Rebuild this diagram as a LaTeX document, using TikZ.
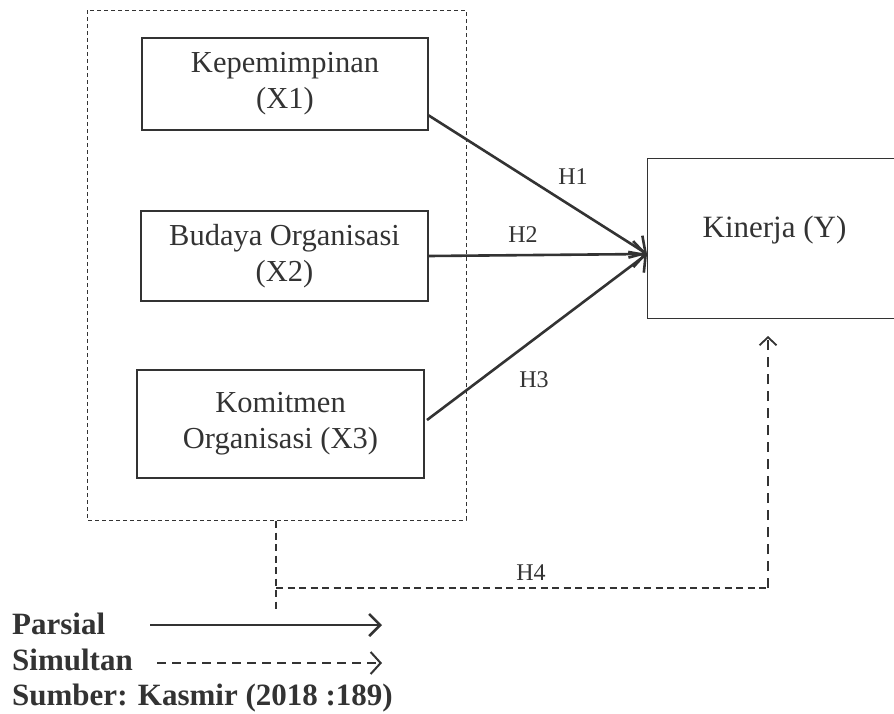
\documentclass[tikz,border=0pt]{standalone}
\usepackage{fontspec}
\setmainfont{Liberation Serif}
\usetikzlibrary{arrows.meta}
\definecolor{ink}{HTML}{333333}
\tikzset{
  varbox/.style={draw=ink, line width=1.1pt, align=center, text=ink, font=\fontsize{30.5}{36}\selectfont, inner sep=0pt},
  lbl/.style={text=ink, font=\fontsize{24}{28}\selectfont},
  solidarrow/.style={draw=ink, line width=2.6pt, -{Straight Barb[length=12pt,width=26pt,line width=2.6pt]}},
  partarrow/.style={draw=ink, line width=2.6pt, -{Straight Barb[length=11pt,width=22pt,line width=2.6pt]}},
  simdash/.style={draw=ink, line width=1.6pt, dash pattern=on 7pt off 4.5pt},
  vdash/.style={draw=ink, line width=1.8pt, dash pattern=on 10pt off 7pt},
  groupbox/.style={draw=ink, line width=1pt, dash pattern=on 4pt off 3pt},
  legend/.style={text=ink, font=\fontsize{31}{36}\selectfont\bfseries, anchor=base west, inner sep=0pt}
}
\begin{document}
\begin{tikzpicture}[x=1pt,y=-1pt]
\useasboundingbox (0,0) rectangle (894,713);
% group box
\draw[groupbox] (87,10) rectangle (466,520);
% variable boxes
\node[varbox, minimum width=286pt, minimum height=92pt] (x1) at (285,84) {Kepemimpinan\\(X1)};
\node[varbox, minimum width=287pt, minimum height=90pt] (x2) at (284.5,256) {Budaya Organisasi\\(X2)};
\node[varbox, minimum width=287pt, minimum height=108pt] (x3) at (280.5,424) {Komitmen\\Organisasi (X3)};
\node[varbox, minimum width=260pt, minimum height=160pt, anchor=north west] (y) at (647,158) {};
\node[text=ink, font=\fontsize{31}{36}\selectfont, anchor=base] at (774.5,237) {Kinerja (Y)};
% hypotheses arrows
\coordinate (tip) at (647,254);
\coordinate (s1) at (428,115);
\coordinate (s3) at (427,420);
\draw[solidarrow] (s1) -- (tip);
\draw[solidarrow] (x2.east) -- (tip);
\draw[solidarrow] (s3) -- (tip);
\node[lbl] at (573,177) {H1};
\node[lbl] at (523,235) {H2};
\node[lbl] at (534,380) {H3};
% simultaneous path
\coordinate (g) at (276,521);
\coordinate (gb) at (276,613);
\coordinate (c1) at (276,588);
\coordinate (c2) at (768,588);
\coordinate (c3) at (768,336);
\draw[simdash] (g) -- (gb);
\draw[simdash] (c1) -- (c2);
\draw[vdash, -{Straight Barb[length=8pt,width=17pt,line width=1.8pt]}] (c2) -- (c3);
\node[lbl] at (531,573) {H4};
% legend
\node[legend] (p) at (12,634) {Parsial};
\coordinate (pa) at (150,625);
\coordinate (pb) at (382,625);
\draw[partarrow] (pa) -- (pb);
\node[legend] (s) at (12,670) {Simultan};
\coordinate (sa) at (157,663);
\coordinate (sb) at (382,663);
\draw[simdash, line width=2pt, dash pattern=on 9pt off 6pt, -{Straight Barb[length=10pt,width=22pt,line width=2pt]}] (sa) -- (sb);
\node[legend] (src) at (12,705) {Sumber: Kasmir (2018 :189)};
\end{tikzpicture}
\end{document}
